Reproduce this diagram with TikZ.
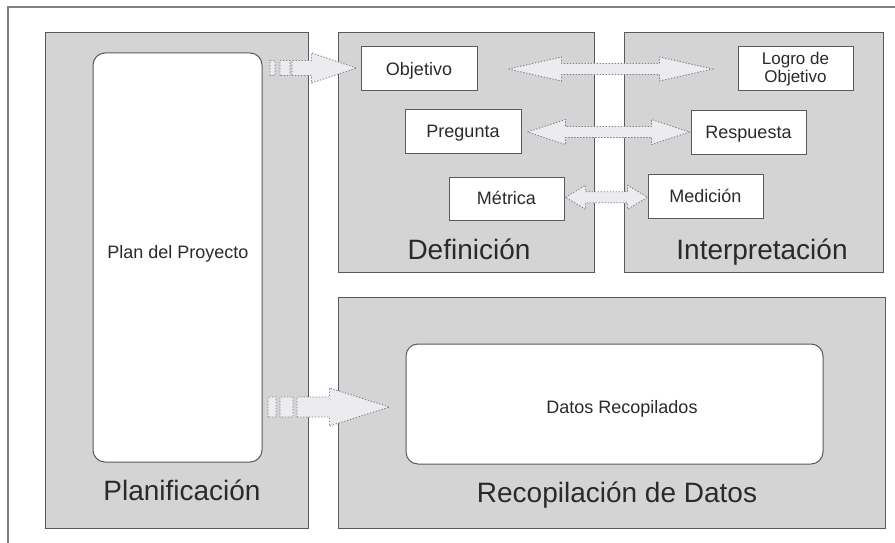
\documentclass[tikz,border=0pt]{standalone}
\usepackage{fontspec}
\setmainfont{Liberation Sans}
\usetikzlibrary{calc}
\definecolor{panelfill}{HTML}{D4D4D4}
\definecolor{edge}{HTML}{5A5A5A}
\definecolor{txt}{HTML}{2A2A2A}
\definecolor{arrfill}{HTML}{ECECEE}
\definecolor{arredge}{HTML}{7E7E9C}
\definecolor{frame}{HTML}{808080}
\newcommand\dblarrow[5]{% #1 left tip, #2 right tip, #3 head length, #4 head half height, #5 shaft half height
  \draw[arr] let \p1=(#1), \p2=(#2), \n1={(\y1+\y2)/2} in
    (\x1,\n1) -- (\x1+#3,\n1+#4) -- (\x1+#3,\n1+#5) -- (\x2-#3,\n1+#5)
    -- (\x2-#3,\n1+#4) -- (\x2,\n1) -- (\x2-#3,\n1-#4) -- (\x2-#3,\n1-#5)
    -- (\x1+#3,\n1-#5) -- (\x1+#3,\n1-#4) -- cycle;}
\begin{document}
\begin{tikzpicture}[x=1pt,y=-1pt,
  panel/.style={draw=edge,fill=panelfill,line width=1pt,inner sep=0pt},
  wbox/.style={draw=edge,fill=white,line width=1pt,inner sep=0pt,text=txt,align=center,
    font=\fontsize{18}{20}\selectfont,text height=12.9pt,text depth=0pt},
  rbox/.style={draw=edge,fill=white,line width=1pt,inner sep=0pt,rounded corners=12pt},
  lbl/.style={text=txt,inner sep=0pt,anchor=base,font=\fontsize{18}{20}\selectfont},
  title/.style={text=txt,inner sep=0pt,anchor=base,font=\fontsize{28}{30}\selectfont},
  arr/.style={fill=arrfill,draw=arredge,line width=0.9pt,dash pattern=on 1.3pt off 1.7pt}]
\useasboundingbox (0,0) rectangle (895,543);
\fill[white] (0,0) rectangle (895,543);
\draw[frame,line width=1.4pt] (8,545) -- (8,7) -- (897,7);

% panels
\node[panel,minimum width=263pt,minimum height=495pt] (planif) at (176.5,280.5) {};
\node[panel,minimum width=256pt,minimum height=239pt] (def) at (466,152.5) {};
\node[panel,minimum width=259pt,minimum height=239pt] (interp) at (753.5,152.5) {};
\node[panel,minimum width=547pt,minimum height=231pt] (recop) at (611.5,412.5) {};

% inner rounded boxes
\node[rbox,minimum width=169pt,minimum height=409pt] (plan) at (177.5,257.5) {};
\node[lbl] (plantxt) at (178,258) {Plan del Proyecto};
\node[rbox,minimum width=417pt,minimum height=120pt] (datos) at (614.5,404) {};
\node[lbl] (datostxt) at (622,413) {Datos Recopilados};

% boxes
\node[wbox,minimum width=116pt,minimum height=44pt] (obj) at (419,69) {Objetivo};
\node[wbox,minimum width=116pt,minimum height=43pt] (preg) at (463,131.5) {Pregunta};
\node[wbox,minimum width=115pt,minimum height=43pt] (met) at (506.5,198.5) {Métrica};
\node[draw=edge,fill=white,line width=1pt,inner sep=0pt,minimum width=115pt,minimum height=44pt,
  text=txt,align=center,font=\fontsize{17}{18}\selectfont] (logro) at (795.5,69) {Logro de\\Objetivo};
\node[wbox,minimum width=115pt,minimum height=43pt] (resp) at (748.5,132.5) {Respuesta};
\node[wbox,minimum width=115pt,minimum height=44pt] (med) at (705.5,196) {Medición};

% titles
\node[title] (tdef) at (469,259) {Definición};
\node[title] (tinterp) at (762,259) {Interpretación};
\node[title] (tplanif) at (182,500) {Planificación};
\node[title] (trecop) at (617,502) {Recopilación de Datos};

% double arrows
\dblarrow{$(obj.east)+(31,0)$}{$(logro.west)+(-25,0)$}{53pt}{12pt}{5.5pt}
\dblarrow{$(preg.east)+(6,0)$}{$(resp.west)+(-1,0)$}{38pt}{12.5pt}{5.5pt}
\dblarrow{$(met.east)+(1,0)$}{$(med.west)+(0,0)$}{20pt}{12pt}{5.5pt}

% arrows from the plan
\coordinate (pa) at (270,68);
\coordinate (pb) at (268,407);
\draw[arr] let \p1=(pa), \p2=($(obj.west)+(-4,0)$) in
  (\x1,\y1-7.5pt) rectangle (\x1+5pt,\y1+7.5pt)
  (\x1+10pt,\y1-7.5pt) rectangle (\x1+20pt,\y1+7.5pt)
  (\x1+22pt,\y1-7.5pt) -- (\x2-45pt,\y1-7.5pt) -- (\x2-45pt,\y1-15pt) -- (\x2,\y1)
  -- (\x2-45pt,\y1+15pt) -- (\x2-45pt,\y1+7.5pt) -- (\x1+22pt,\y1+7.5pt) -- cycle;
\draw[arr] let \p1=(pb), \p2=($(datos.west)+(-16,0)$) in
  (\x1,\y1-10pt) rectangle (\x1+8pt,\y1+10pt)
  (\x1+12pt,\y1-10pt) rectangle (\x1+25pt,\y1+10pt)
  (\x1+29pt,\y1-10pt) -- (\x2-60pt,\y1-10pt) -- (\x2-60pt,\y1-19pt) -- (\x2,\y1)
  -- (\x2-60pt,\y1+19pt) -- (\x2-60pt,\y1+10pt) -- (\x1+29pt,\y1+10pt) -- cycle;
\end{tikzpicture}
\end{document}
